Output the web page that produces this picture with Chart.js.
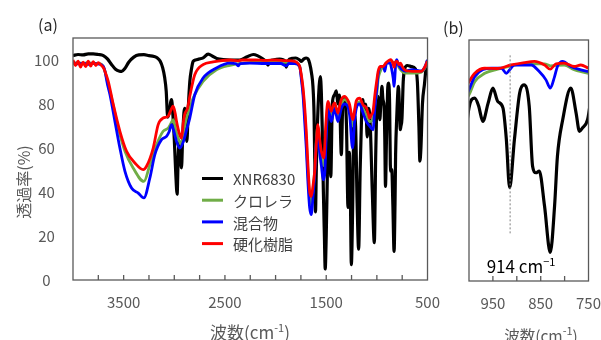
<!DOCTYPE html>
<html lang="ja">
<head>
<meta charset="UTF-8">
<title>FT-IR</title>
<script src="https://cdn.jsdelivr.net/npm/chart.js@4.4.0/dist/chart.umd.min.js"></script>
<style>
  * { box-sizing: border-box; margin: 0; padding: 0; }
  body { width: 601px; height: 340px; background: #fff; overflow: hidden; position: relative; font-family: "Noto Sans CJK JP", sans-serif; }
  canvas { position: absolute; top: 0; }
  #chartA { left: 0; }
  #chartB { left: 440px; }
  .txt { position: absolute; white-space: nowrap; line-height: 1; }
  .panel { font-size: 16px; color: #262626; }
  .axt { font-size: 17px; color: #595959; transform: translate(-50%, -50%); }
  .axt.b { font-size: 15.5px; }
  .axt sup, .note sup { font-size: 11px; vertical-align: 0; position: relative; top: -7px; }
  .yt { font-size: 16px; color: #595959; transform: translate(-50%, -50%) rotate(-90deg); }
  .note { font-size: 17px; color: #000; transform: translate(-50%, -50%); }
</style>
</head>
<body>
<canvas id="chartA" width="440" height="340"></canvas>
<canvas id="chartB" width="161" height="340"></canvas>

<div class="txt panel" style="left:38px; top:16px;">(a)</div>
<div class="txt panel" style="left:443px; top:19px;">(b)</div>
<div class="txt yt" style="left:23px; top:182px;">透過率(%)</div>
<div class="txt axt" style="left:250px; top:331px;">波数(cm<sup>-1</sup>)</div>
<div class="txt axt b" style="left:541px; top:336px;">波数(cm<sup>-1</sup>)</div>
<div class="txt note" style="left:521px; top:265px;">914 cm<sup>−1</sup></div>

<script>
// 目盛り
const yTicks = [0, 20, 40, 60, 80, 100];
const xTicksA = [3500, 2500, 1500, 500];
const xMinorA = [3750, 3500, 3250, 3000, 2750, 2500, 2250, 2000, 1750, 1500, 1250, 1000, 750];
const xTicksB = [950, 850, 750];
const xMinorB = [950, 900, 850, 800];
const markWn = 914, markTop = 103, markBottom = 21;

// XNR6830
const xnrWn = [4000,3950,3900,3850,3800,3750,3700,3660,3620,3580,3540,3520,3490,3450,3400,3350,3300,3250,3200,3170,3140,3115,3095,3080,3065,3050,3035,3027,3015,3000,2985,2972,2962,2952,2940,2929,2918,2905,2896,2886,2876,2862,2847,2830,2814,2790,2760,2715,2666,2617,2570,2518,2450,2354,2280,2220,2180,2124,2090,2075,2055,2026,1959,1905,1894,1880,1828,1800,1762,1746,1720,1697,1680,1664,1645,1631,1620,1612,1606,1598,1590,1570,1558,1548,1540,1528,1518,1510,1500,1490,1480,1470,1455,1440,1420,1400,1385,1370,1351,1335,1318,1300,1285,1272,1262,1252,1240,1225,1210,1195,1180,1165,1150,1139,1125,1110,1095,1080,1065,1045,1025,1012,1000,988,980,971,960,950,940,929,922,915,905,894,885,874,867,860,853,842,830,821,815,804,787,776,769,763,752,740,725,700,660,620,600,585,575,565,550,530,515,500];
const xnrT  = [102.0,102.5,102.3,102.8,102.8,102.5,102.0,100.5,98.0,95.8,94.9,94.8,96.0,99.0,101.3,102.3,102.4,102.0,101.6,101.0,99.5,96.5,92.0,86.0,74.0,76.0,81.0,82.0,76.0,64.0,48.0,39.0,55.0,63.0,57.0,51.0,64.0,76.0,78.0,70.0,63.0,78.0,90.0,96.0,99.4,100.0,100.4,101.0,102.7,101.6,100.5,100.2,100.0,100.0,101.5,102.5,102.0,100.4,99.0,97.7,99.5,100.0,100.4,99.4,96.8,99.5,100.8,100.9,100.0,99.4,100.5,100.9,100.5,98.6,94.0,88.0,75.0,50.0,31.0,50.0,66.0,88.0,92.4,85.0,70.0,40.0,20.0,5.0,20.0,45.0,68.0,75.0,47.0,80.0,84.0,86.0,80.0,84.0,57.0,82.0,83.0,70.0,33.0,58.0,40.0,7.0,30.0,75.0,70.0,35.0,14.0,50.0,76.0,82.0,75.0,80.0,65.0,78.0,70.0,40.0,17.0,55.0,79.0,83.5,80.0,72.9,81.2,88.0,82.0,79.0,65.0,42.6,64.5,85.8,89.5,79.7,52.4,49.4,50.2,34.2,13.0,34.2,57.0,73.6,88.0,76.7,68.3,69.8,73.6,90.0,96.0,97.5,97.0,96.0,90.0,70.0,54.0,60.0,80.0,89.0,96.0,100.0];

// クロレラ
const chlWn = [4000,3950,3900,3850,3800,3750,3700,3684,3650,3619,3553,3487,3406,3300,3241,3175,3110,3061,3035,3011,2985,2962,2930,2905,2880,2847,2814,2716,2584,2452,2321,2100,1900,1811,1762,1745,1729,1710,1697,1680,1664,1648,1630,1614,1598,1582,1565,1548,1530,1515,1500,1483,1450,1417,1384,1351,1318,1269,1240,1220,1203,1170,1137,1104,1071,1038,1020,1000,988,967,940,912,884,842,830,801,780,750,720,650,560,530,500];
const chlT  = [98.5,98.8,98.3,98.8,98.4,98.5,97.0,94.8,88.0,82.7,69.0,58.5,50.9,44.8,52.4,61.5,67.6,69.0,71.0,72.9,68.0,64.5,61.5,68.0,73.6,78.0,82.7,90.3,95.6,97.6,98.6,99.1,98.9,98.8,97.0,92.0,86.0,74.0,64.0,48.0,38.0,34.2,41.0,50.0,63.0,70.0,62.0,57.0,52.0,55.0,68.0,80.0,75.0,79.0,75.0,80.0,82.0,78.0,70.0,76.0,80.0,81.0,78.0,75.0,72.0,73.0,80.0,85.0,91.0,94.8,96.7,98.2,99.1,99.1,98.2,98.6,96.4,94.8,94.0,94.0,94.5,96.0,99.0];

// 混合物
const mixWn = [4000,3950,3900,3850,3800,3750,3700,3684,3660,3635,3586,3537,3487,3422,3356,3300,3241,3192,3126,3077,3050,3027,2995,2978,2946,2910,2880,2847,2798,2716,2584,2452,2390,2370,2350,2256,2100,1950,1894,1870,1811,1762,1745,1729,1710,1697,1680,1664,1648,1630,1614,1598,1582,1565,1548,1530,1515,1500,1483,1450,1417,1384,1351,1318,1269,1240,1220,1203,1170,1137,1104,1071,1038,1020,1000,988,953,932,922,915,905,870,853,839,830,821,815,804,787,766,750,720,650,560,530,500];
const mixT  = [99.0,98.2,98.6,98.0,98.5,98.2,97.0,94.8,89.0,84.2,72.1,60.0,49.4,41.8,39.5,37.3,46.4,57.0,63.8,65.3,67.5,70.6,66.0,63.0,60.0,63.0,68.0,73.6,84.2,91.8,96.4,98.6,98.3,97.3,98.4,98.6,98.4,98.4,97.3,98.4,98.4,97.0,91.0,84.0,70.0,60.0,44.0,33.0,29.7,38.0,48.0,62.0,68.0,58.0,52.0,45.5,48.0,65.0,78.0,72.0,78.0,72.0,78.0,80.0,75.0,60.0,72.0,78.0,80.0,76.0,72.0,70.0,68.3,78.0,87.3,93.3,97.1,97.1,94.8,96.4,98.6,98.6,95.6,91.8,88.0,93.3,97.9,100.2,97.9,96.4,95.6,95.0,95.6,95.0,96.5,100.0];

// 硬化樹脂
const resinWn = [4000,3975,3950,3925,3900,3875,3850,3825,3800,3775,3750,3725,3700,3684,3652,3602,3537,3471,3389,3307,3274,3208,3159,3110,3061,3040,3011,2990,2978,2946,2929,2910,2896,2870,2847,2798,2716,2617,2452,2370,2330,2200,2100,2000,1900,1811,1780,1762,1745,1729,1710,1697,1680,1664,1648,1630,1614,1598,1582,1565,1548,1523,1505,1483,1465,1450,1435,1417,1400,1384,1368,1351,1318,1290,1269,1250,1236,1220,1203,1170,1137,1104,1085,1071,1055,1038,1020,1000,988,967,940,912,884,863,842,830,818,801,780,766,750,727,690,645,600,562,530,500];
const resinT  = [100.0,97.5,99.5,96.8,99.0,97.0,99.5,97.2,99.3,97.5,98.8,97.8,96.5,94.8,90.3,79.7,67.6,58.5,53.2,50.2,51.7,60.0,70.6,73.6,74.4,76.5,79.0,75.5,72.1,66.0,64.5,72.0,75.5,78.0,83.5,93.3,97.9,99.1,100.0,99.6,100.0,100.0,99.8,100.0,99.7,99.4,98.5,97.1,93.0,87.3,77.0,67.6,52.0,40.3,38.0,43.0,49.4,62.0,70.6,64.0,58.5,55.5,70.0,81.2,78.5,76.7,79.0,80.5,78.0,75.9,79.0,82.0,83.5,82.0,79.7,75.0,72.9,77.0,81.5,82.7,79.7,78.2,75.5,73.6,75.0,76.7,84.0,91.0,94.8,97.1,97.0,98.6,99.7,100.2,98.6,96.7,99.1,99.4,97.9,98.6,97.1,95.6,95.0,94.8,94.8,94.8,96.5,99.5];

const series = [
  { label: 'XNR6830', wn: xnrWn, t: xnrT, color: '#000000', width: 3.2, order: 4 },
  { label: 'クロレラ', wn: chlWn, t: chlT, color: '#70ad47', width: 2.8, order: 3 },
  { label: '混合物', wn: mixWn, t: mixT, color: '#0000ff', width: 2.8, order: 2 },
  { label: '硬化樹脂', wn: resinWn, t: resinT, color: '#ff0000', width: 2.8, order: 1 },
];

function makeDatasets() {
  return series.map(s => ({
    label: s.label,
    data: s.wn.map((w, i) => ({ x: w, y: s.t[i] })),
    borderColor: s.color,
    borderWidth: s.width,
    pointRadius: 0,
    cubicInterpolationMode: 'monotone',
    order: s.order,
  }));
}

// 枠と内向きの目盛り
const framePlugin = {
  id: 'frame',
  afterDraw(chart, args, opts) {
    const { ctx, chartArea: a } = chart;
    const x = chart.scales.x;
    ctx.save();
    ctx.strokeStyle = '#595959';
    ctx.lineWidth = 1.3;
    ctx.strokeRect(a.left, a.top, a.right - a.left, a.bottom - a.top);
    (opts.minor || []).forEach(v => {
      const px = x.getPixelForValue(v);
      ctx.beginPath();
      ctx.moveTo(px, a.bottom);
      ctx.lineTo(px, a.bottom - 5);
      ctx.stroke();
    });
    ctx.restore();
  }
};

// 凡例 (グラフ内)
const legendPlugin = {
  id: 'innerLegend',
  afterDraw(chart, args, opts) {
    if (!opts.show) return;
    const ctx = chart.ctx;
    ctx.save();
    ctx.font = '15px "Noto Sans CJK JP"';
    ctx.textBaseline = 'middle';
    chart.data.datasets.forEach((ds, i) => {
      const y = 178.5 + i * 21.7;
      ctx.strokeStyle = ds.borderColor;
      ctx.lineWidth = 3;
      ctx.beginPath();
      ctx.moveTo(202, y);
      ctx.lineTo(223, y);
      ctx.stroke();
      ctx.fillStyle = '#404040';
      ctx.fillText(ds.label, 233, y + 1);
    });
    ctx.restore();
  }
};

// 914 cm-1 の点線
const markPlugin = {
  id: 'mark',
  afterDatasetsDraw(chart, args, opts) {
    if (!opts.show) return;
    const { ctx, scales: { x, y } } = chart;
    const px = x.getPixelForValue(markWn);
    ctx.save();
    ctx.strokeStyle = '#808080';
    ctx.lineWidth = 1;
    ctx.setLineDash([2, 2]);
    ctx.beginPath();
    ctx.moveTo(px, y.getPixelForValue(markTop));
    ctx.lineTo(px, y.getPixelForValue(markBottom));
    ctx.stroke();
    ctx.restore();
  }
};

function makeOptions(cfg) {
  return {
    responsive: false,
    animation: false,
    layout: { padding: { top: cfg.top, right: cfg.right, left: 0, bottom: 0 } },
    plugins: {
      legend: { display: false },
      tooltip: { enabled: false },
      frame: { minor: cfg.minor },
      innerLegend: { show: cfg.legend },
      mark: { show: cfg.mark },
    },
    scales: {
      x: {
        type: 'linear',
        reverse: true,
        min: cfg.xmin,
        max: cfg.xmax,
        grid: { display: false, drawTicks: false },
        border: { display: false },
        // padding 0 で右端の余白を抑え、行の高さでラベルを下げる
        ticks: { color: '#595959', font: { size: 15, family: '"Noto Sans CJK JP"', lineHeight: '44px' }, padding: 0, maxRotation: 0, callback: v => String(v) },
        afterBuildTicks: s => { s.ticks = cfg.xticks.map(v => ({ value: v })); },
        afterFit: s => { s.height = cfg.xh; },
      },
      y: {
        min: 0,
        max: 110,
        grid: { display: false, drawTicks: false },
        border: { display: false },
        ticks: { display: cfg.ylabels, color: '#595959', font: { size: 15, family: '"Noto Sans CJK JP"' }, padding: 14, crossAlign: 'center' },
        afterBuildTicks: s => { s.ticks = yTicks.map(v => ({ value: v })); },
        afterFit: s => { s.width = cfg.yw; },
      }
    }
  };
}

new Chart(document.getElementById('chartA'), {
  type: 'line',
  data: { datasets: makeDatasets() },
  options: makeOptions({ top: 38, right: 12, xmin: 500, xmax: 4000, xticks: xTicksA, minor: xMinorA, xh: 60, yw: 73, ylabels: true, legend: true, mark: false }),
  plugins: [framePlugin, legendPlugin, markPlugin],
});

new Chart(document.getElementById('chartB'), {
  type: 'line',
  data: { datasets: makeDatasets() },
  options: makeOptions({ top: 40, right: 12, xmin: 750, xmax: 1000, xticks: xTicksB, minor: xMinorB, xh: 59, yw: 29, ylabels: false, legend: false, mark: true }),
  plugins: [framePlugin, legendPlugin, markPlugin],
});
</script>
</body>
</html>
